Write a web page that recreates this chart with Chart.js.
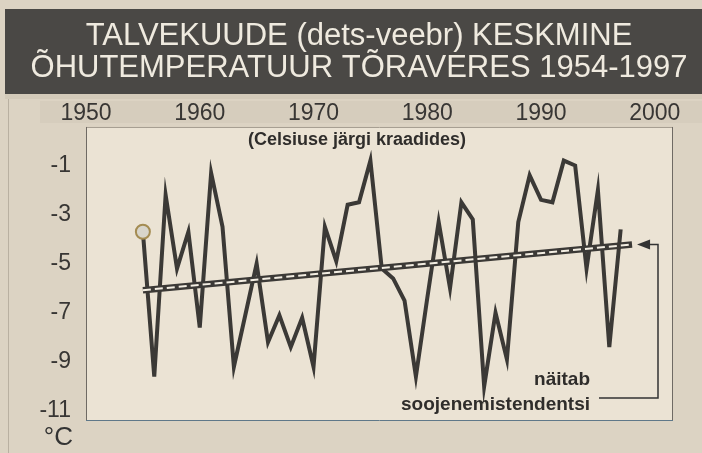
<!DOCTYPE html>
<html><head><meta charset="utf-8">
<script src="https://cdn.jsdelivr.net/npm/chart.js@4.4.0/dist/chart.umd.min.js"></script>
<style>html,body{margin:0;padding:0;background:#dcd3c3;overflow:hidden}</style>
</head><body>
<canvas id="c" width="702" height="453"></canvas>
<script>
const titleLines = ['TALVEKUUDE (dets-veebr) KESKMINE', 'ÕHUTEMPERATUUR TÕRAVERES 1954-1997'];
const years = [1955,1956,1957,1958,1959,1960,1961,1962,1963,1964,1965,1966,1967,1968,1969,1970,1971,1972,1973,1974,1975,1976,1977,1978,1979,1980,1981,1982,1983,1984,1985,1986,1987,1988,1989,1990,1991,1992,1993,1994,1995,1996,1997];
const temps = [-3.7,-9.6,-2.2,-5.2,-3.7,-7.6,-1.3,-3.5,-9.2,-7.1,-5.0,-8.2,-7.1,-8.4,-7.2,-9.2,-3.5,-4.9,-2.6,-2.5,-0.8,-5.2,-5.6,-6.5,-9.6,-6.4,-3.3,-6.0,-2.5,-3.2,-10.0,-7.0,-8.9,-3.3,-1.4,-2.4,-2.5,-0.8,-1.0,-5.2,-2.0,-8.4,-3.6];
const trendYears = [1955, 1998];
const trendTemps = [-6.08, -4.22];
const xTicks = [1950, 1960, 1970, 1980, 1990, 2000];
const yTicks = [-1, -3, -5, -7, -9, -11];
const unitLabel = '°C';
const noteText = '(Celsiuse järgi kraadides)';
const trendNote = ['näitab', 'soojenemistendentsi'];

const FONT = 'Liberation Sans, Arial, Helvetica, sans-serif';
const INK = '#3b3936';

const series = years.map((x, i) => ({x, y: temps[i]}));
const trend = trendYears.map((x, i) => ({x, y: trendTemps[i]}));

const decor = {
  id: 'decor',
  beforeDraw(chart) {
    const ctx = chart.ctx, a = chart.chartArea;
    ctx.save();
    ctx.fillStyle = '#dcd3c3';
    ctx.fillRect(0, 0, chart.width, chart.height);
    // title band
    ctx.fillStyle = '#4a4845';
    ctx.fillRect(5, 9, chart.width - 5, 85);
    ctx.fillStyle = '#d3cab9';
    ctx.fillRect(5, 94, chart.width - 5, 5);
    // axis label strip
    ctx.fillStyle = '#d6cdbd';
    ctx.fillRect(40, 101, chart.width - 40, 22);
    // frame line
    ctx.strokeStyle = '#b9b0a1';
    ctx.lineWidth = 1;
    ctx.beginPath(); ctx.moveTo(8.5, 99); ctx.lineTo(8.5, chart.height); ctx.stroke();
    // plot area
    ctx.fillStyle = '#ebe3d4';
    ctx.fillRect(a.left, a.top, a.right - a.left, a.bottom - a.top);
    ctx.lineWidth = 1;
    ctx.strokeStyle = '#a59d90';
    ctx.beginPath(); ctx.moveTo(a.left, a.top + 0.5); ctx.lineTo(a.right, a.top + 0.5); ctx.stroke();
    ctx.strokeStyle = '#6f6a64';
    ctx.beginPath(); ctx.moveTo(a.left + 0.5, a.top); ctx.lineTo(a.left + 0.5, a.bottom); ctx.stroke();
    ctx.beginPath(); ctx.moveTo(a.right - 0.5, a.top); ctx.lineTo(a.right - 0.5, a.bottom); ctx.stroke();
    ctx.strokeStyle = '#5f7889';
    ctx.beginPath(); ctx.moveTo(a.left, a.bottom - 0.5); ctx.lineTo(a.right, a.bottom - 0.5); ctx.stroke();
    ctx.restore();
  },
  afterDraw(chart) {
    const ctx = chart.ctx, a = chart.chartArea;
    const xs = chart.scales.x, ys = chart.scales.y;
    ctx.save();
    ctx.fillStyle = '#2f2d2b';
    ctx.textBaseline = 'middle';
    ctx.font = 'bold 18px ' + FONT;
    ctx.textAlign = 'center';
    ctx.fillText(noteText, 357, a.top + 13);
    ctx.font = 'bold 19px ' + FONT;
    ctx.textAlign = 'right';
    ctx.fillText(trendNote[0], 590, 380);
    ctx.fillText(trendNote[1], 590, 405);
    ctx.font = '26px ' + FONT;
    ctx.fillStyle = '#333';
    ctx.fillText(unitLabel, 73, 438);
    // arrow
    const tx = xs.getPixelForValue(trendYears[1]) + 5;
    const ty = ys.getPixelForValue(trendTemps[1]);
    ctx.fillStyle = '#333';
    ctx.beginPath();
    ctx.moveTo(tx, ty); ctx.lineTo(tx + 13, ty - 5); ctx.lineTo(tx + 13, ty + 5); ctx.closePath();
    ctx.fill();
    ctx.strokeStyle = '#333';
    ctx.lineWidth = 1.5;
    ctx.beginPath();
    ctx.moveTo(tx + 12, ty); ctx.lineTo(658, ty); ctx.lineTo(658, 398); ctx.lineTo(599, 398);
    ctx.stroke();
    ctx.restore();
  }
};

new Chart(document.getElementById('c'), {
  type: 'line',
  data: {
    datasets: [
      {data: trend, yAxisID: 'y', borderColor: '#f3eee3', borderWidth: 2, borderDash: [8, 4], pointRadius: 0, borderCapStyle: 'butt'},
      {data: trend, yAxisID: 'y', borderColor: INK, borderWidth: 6.5, pointRadius: 0, borderCapStyle: 'butt'},
      {data: series, yAxisID: 'y', borderColor: INK, borderWidth: 4, tension: 0, borderJoinStyle: 'miter',
       pointRadius: c => c.dataIndex === 0 ? 7 : 0, pointHoverRadius: 0,
       pointBackgroundColor: '#d8d5cb', pointBorderColor: '#a48c52', pointBorderWidth: 2}
    ]
  },
  options: {
    responsive: false, animation: false, devicePixelRatio: 1,
    layout: {padding: {left: 16, right: 0, top: 0, bottom: 32}},
    plugins: {
      legend: {display: false}, tooltip: {enabled: false},
      title: {display: true, text: titleLines, color: '#efeadf',
        font: {family: FONT, size: 31, weight: 'normal', lineHeight: 1.032},
        padding: {top: 20, bottom: 6}}
    },
    scales: {
      x: {type: 'linear', position: 'top', min: 1950, max: 2001.6,
        grid: {display: false, drawTicks: false}, border: {display: false},
        ticks: {font: {family: FONT, size: 23}, color: '#383634', padding: 0, maxRotation: 0, autoSkip: false,
          callback: v => String(v)},
        afterBuildTicks: s => { s.ticks = xTicks.map(v => ({value: v})); },
        afterFit: s => { s.height = 37; }
      },
      y: {type: 'linear', position: 'left', min: -11.41, max: 0.57,
        grid: {display: false, drawTicks: false}, border: {display: false},
        ticks: {font: {family: FONT, size: 23}, color: '#383634', padding: 15, autoSkip: false,
          callback: v => String(v)},
        afterBuildTicks: s => { s.ticks = yTicks.map(v => ({value: v})); },
        afterFit: s => { s.width = 70; }
      },
      yR: {type: 'linear', position: 'right', axis: 'y',
        grid: {display: false, drawTicks: false}, border: {display: false},
        ticks: {display: false},
        afterFit: s => { s.width = 29; }
      }
    }
  },
  plugins: [decor]
});
</script>
</body></html>
